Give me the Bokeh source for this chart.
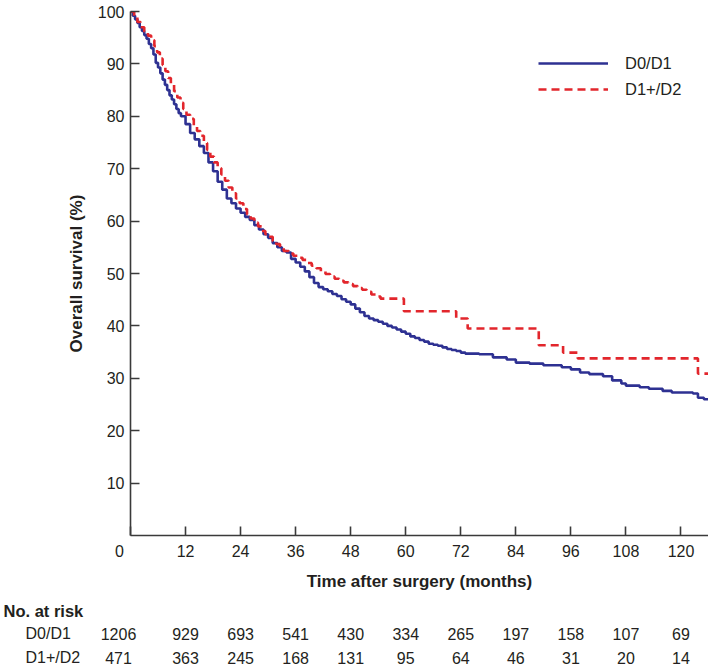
from bokeh.plotting import figure
from bokeh.models import Range1d, FixedTicker, Legend, LegendItem, ColumnDataSource
from bokeh.core.properties import value
from bokeh.embed import file_html
from bokeh.resources import INLINE

# ---------------- data ----------------
d01_time = [0, 0.5, 1, 1.5, 2, 2.5, 3, 3.5, 4, 4.5, 5, 5.5, 6, 6.5, 7, 7.5, 8, 8.5, 9, 9.5,
            10, 10.5, 11, 12, 13, 14, 15, 16, 17, 18, 19, 20, 21, 22, 23, 24, 25, 26, 27, 28,
            29, 30, 31, 32, 33, 34, 35, 36, 37, 38, 39, 40, 41, 42, 43, 44, 45, 46, 47, 48,
            49, 50, 51, 52, 53, 54, 55, 56, 57, 58, 59, 60, 61, 62, 63, 64, 65, 66, 67, 68,
            69, 70, 71, 72, 73, 76, 79, 82, 84, 87, 90, 94, 96, 98, 100, 103, 105, 107, 108,
            111, 113, 116, 118, 122.6, 123.7, 125, 126]
d01_surv = [100, 99.2, 98.5, 97.8, 97.0, 96.3, 95.5, 94.8, 93.8, 93.0, 91.8, 90.2, 89.3, 88.2,
            87.0, 86.0, 85.0, 84.0, 83.2, 82.3, 81.4, 80.6, 80.0, 78.5, 76.8, 75.6, 74.3, 73.0,
            71.2, 69.5, 67.5, 66.0, 64.3, 63.4, 62.4, 61.6, 60.8, 60.2, 59.2, 58.4, 57.5, 56.8,
            55.8, 55.0, 54.3, 54.0, 52.8, 52.1, 51.3, 50.4, 49.3, 48.2, 47.4, 47.0, 46.6, 46.1,
            45.7, 45.1, 44.6, 44.1, 43.3, 42.6, 41.9, 41.4, 41.1, 40.8, 40.4, 40.0, 39.7, 39.3,
            38.9, 38.5, 38.0, 37.7, 37.3, 37.0, 36.6, 36.4, 36.2, 35.9, 35.6, 35.4, 35.2, 34.9,
            34.7, 34.6, 34.0, 33.6, 33.0, 32.8, 32.5, 32.1, 31.7, 31.1, 30.8, 30.4, 29.6, 29.0,
            28.6, 28.3, 28.0, 27.6, 27.3, 27.1, 26.3, 26.0, 25.8]

d12_time = [0, 0.8, 1.5, 2.2, 3, 3.8, 4.5, 5.2, 5.8, 6.4, 7, 7.6, 8.2, 8.8, 9.5, 10.2, 10.9,
            11.5, 12.2, 13, 13.8, 14.5, 15.2, 16, 16.7, 17.4, 18.2, 19, 19.8, 20.6, 21.4, 22.2,
            23, 23.8, 24.6, 25.4, 26.2, 27, 27.8, 28.6, 29.4, 30.2, 31, 31.8, 32.6, 33.4, 34.5,
            35.5, 36.5, 37.5, 38.5, 39.5, 40.5, 41.5, 42.5, 43.5, 44.5, 45.5, 46.5, 47.5, 48.5,
            49.5, 50.5, 51.5, 52.5, 53.5, 54.5, 59.6, 71, 73.5, 89, 94.3, 97.5, 123.7, 126]
d12_surv = [100, 99, 98, 97, 96.2, 95.4, 94.5, 93.4, 92.2, 91.0, 89.8, 88.6, 87.3, 86.1, 84.8,
            83.6, 82.6, 81.4, 80.3, 79.5, 78.3, 77.2, 76.3, 74.9, 73.6, 72.3, 71.2, 70.1, 68.9,
            67.7, 66.4, 65.3, 64.3, 63.4, 62.3, 61.3, 60.5, 59.7, 59.0, 58.1, 57.5, 57.0, 56.2,
            55.6, 55.0, 54.3, 53.8, 53.4, 53.0, 52.6, 52.0, 51.5, 51.0, 50.4, 49.9, 49.4, 49.0,
            48.6, 48.3, 48.0, 47.6, 47.2, 46.9, 46.5, 46.0, 45.6, 45.2, 42.8, 41.4, 39.5, 36.3,
            34.9, 33.8, 30.9, 30.9]

x_ticks = [0, 12, 24, 36, 48, 60, 72, 84, 96, 108, 120]
y_ticks = [10, 20, 30, 40, 50, 60, 70, 80, 90, 100]

risk_times = [0, 12, 24, 36, 48, 60, 72, 84, 96, 108, 120]
risk_d01 = [1206, 929, 693, 541, 430, 334, 265, 197, 158, 107, 69]
risk_d12 = [471, 363, 245, 168, 131, 95, 64, 46, 31, 20, 14]
group_names = ["D0/D1", "D1+/D2"]

# ---------------- style ----------------
FONT = "Liberation Sans"
TXT = "#231f20"
AXC = "#3a3a3a"
BLUE = "#2e3192"
RED = "#e2262c"
XMAX = 126
W = 708
BL, BR, BT, BB = 130, 0, 11, 60
H = BT + 524 + BB

p = figure(width=W, height=H, output_backend="svg", toolbar_location=None,
           x_range=Range1d(0, XMAX), y_range=Range1d(0, 100),
           min_border_left=BL, min_border_right=BR, min_border_top=BT, min_border_bottom=BB)
p.outline_line_color = None
p.grid.visible = False
p.background_fill_color = "white"

r1 = p.step(d01_time, d01_surv, mode="after", line_color=BLUE, line_width=2.6)
r2 = p.step(d12_time, d12_surv, mode="after", line_color=RED, line_width=2.6, line_dash="8 5")

for ax in (p.xaxis[0], p.yaxis[0]):
    ax.axis_line_color = AXC
    ax.axis_line_width = 1.6
    ax.major_tick_line_color = AXC
    ax.major_tick_line_width = 1.6
    ax.major_tick_in = 9
    ax.major_tick_out = 0
    ax.minor_tick_line_color = None
    ax.major_label_text_font = FONT
    ax.major_label_text_font_size = "16px"
    ax.major_label_text_color = TXT
    ax.axis_label_text_font = FONT
    ax.axis_label_text_font_size = "17px"
    ax.axis_label_text_font_style = "bold"
    ax.axis_label_text_color = TXT

p.xaxis.ticker = FixedTicker(ticks=x_ticks)
p.yaxis.ticker = FixedTicker(ticks=y_ticks)
# the origin label sits a little left of the axis corner (padded with figure spaces)
p.xaxis.major_label_overrides = {0: "0\u2007\u2007\u00a0"}
p.xaxis.major_label_standoff = 7
p.yaxis.major_label_standoff = 6
p.xaxis.axis_label = "Time after surgery (months)"
p.yaxis.axis_label = "Overall survival (%)"
p.xaxis.axis_label_standoff = 9
p.yaxis.axis_label_standoff = 9

legend = Legend(items=[LegendItem(label=group_names[0], renderers=[r1]),
                       LegendItem(label=group_names[1], renderers=[r2])],
                location=(408, 436), orientation="vertical")
legend.border_line_color = None
legend.background_fill_alpha = 0
legend.padding = 0
legend.margin = 0
legend.spacing = 6
legend.glyph_width = 70
legend.glyph_height = 20
legend.label_height = 20
legend.label_standoff = 17
legend.label_text_font = FONT
legend.label_text_font_size = "16.5px"
legend.label_text_color = TXT
p.add_layout(legend)

# ---------------- risk table (separate root, frame spans full width) ----------------
frame_w = W - BL - BR
scale = frame_w / XMAX
x0 = -BL / scale
x1 = XMAX + BR / scale
H2 = 670 - H
p2 = figure(width=W, height=H2, output_backend="svg", toolbar_location=None,
            x_range=Range1d(x0, x1), y_range=Range1d(H2, 0),
            x_axis_location=None, y_axis_location=None,
            min_border_left=0, min_border_right=0, min_border_top=0, min_border_bottom=0)
p2.outline_line_color = None
p2.grid.visible = False

row_y = [610 - H, 633 - H, 657 - H]

p2.text(x=[x0 + 3 / scale], y=[row_y[0]], text=["No. at risk"], text_font=value(FONT),
        text_font_size="16.5px", text_font_style="bold", text_color=TXT,
        text_align="left", text_baseline="middle")
p2.text(x=[x0 + 25 / scale] * 2, y=row_y[1:], text=group_names, text_font=value(FONT),
        text_font_size="16px", text_color=TXT, text_align="left", text_baseline="middle")

for vals, yy in ((risk_d01, row_y[1]), (risk_d12, row_y[2])):
    src = ColumnDataSource(dict(x=risk_times[1:], y=[yy] * (len(risk_times) - 1),
                                t=[str(v) for v in vals[1:]]))
    p2.text(x="x", y="y", text="t", source=src, text_font=value(FONT), text_font_size="16px",
            text_color=TXT, text_align="center", text_baseline="middle")
    p2.text(x=[risk_times[0]], y=[yy], text=[str(vals[0])], x_offset=-12,
            text_font=value(FONT), text_font_size="16px", text_color=TXT,
            text_align="center", text_baseline="middle")

open("out.html", "w").write(file_html([p, p2], INLINE))
